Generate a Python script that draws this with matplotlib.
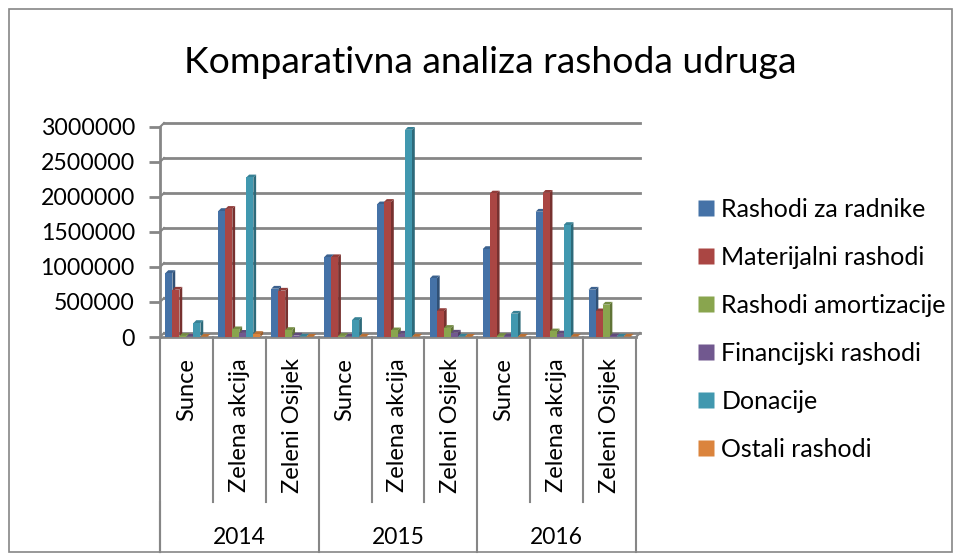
import numpy as np
import matplotlib.pyplot as plt
from matplotlib.patches import Polygon, Rectangle
from matplotlib.lines import Line2D

plt.rcParams['font.family'] = ['Lato', 'DejaVu Sans']

# data
years = ['2014', '2015', '2016']
udruge = ['Sunce', 'Zelena akcija', 'Zeleni Osijek']
series = ['Rashodi za radnike', 'Materijalni rashodi', 'Rashodi amortizacije',
          'Financijski rashodi', 'Donacije', 'Ostali rashodi']

radnici = [914000, 1800000, 690000, 1140000, 1895000, 838000, 1257000, 1790000, 676000]
materijalni = [676000, 1830000, 662000, 1140000, 1930000, 371000, 2050000, 2060000, 367000]
amortizacija = [15000, 110000, 100000, 15000, 95000, 130000, 15000, 80000, 462000]
financijski = [5000, 60000, 20000, 5000, 48000, 62000, 10000, 50000, 10000]
donacije = [200000, 2280000, 5000, 243000, 2960000, 5000, 333000, 1600000, 5000]
ostali = [3000, 43000, 3000, 5000, 5000, 3000, 3000, 5000, 5000]

values = [radnici, materijalni, amortizacija, financijski, donacije, ostali]
colors = ['#4572A7', '#AA4643', '#89A54E', '#71588F', '#4198AF', '#DB843D']

W, H = 960, 559
fig = plt.figure(figsize=(W / 100, H / 100), dpi=100)

# plot area in pixels
left, right, top, bottom = 160, 636, 127, 337
ax = fig.add_axes([left / W, 1 - bottom / H, (right - left) / W, (bottom - top) / H])

ncat = len(years) * len(udruge)
ymax = 3000000
ax.set_xlim(0, ncat)
ax.set_ylim(0, ymax)

# size of one pixel in data units
px_x = ncat / (right - left)
px_y = ymax / (bottom - top)
dep_x, dep_y = 4 * px_x, 4 * px_y

grid_col = '#868686'

# back wall gridlines with a small perspective offset
for v in np.arange(0, ymax + 1, 500000):
    ax.plot([dep_x, ncat + dep_x], [v + dep_y, v + dep_y], color=grid_col, lw=2, clip_on=False, zorder=1)
    ax.plot([0, dep_x], [v, v + dep_y], color=grid_col, lw=1.5, clip_on=False, zorder=1)
ax.plot([ncat, ncat + dep_x], [0, dep_y], color=grid_col, lw=1.5, clip_on=False, zorder=1)

# 3D-looking bars
def shade(c, f):
    c = np.array(plt.matplotlib.colors.to_rgb(c))
    return tuple(np.clip(c * f, 0, 1))

bw = 7.0 * px_x
x = np.arange(ncat) + 0.5
for i, (vals, col) in enumerate(zip(values, colors)):
    xs = x + (i - 2.5) * bw
    for xc, h in zip(xs, vals):
        x0, x1 = xc - bw / 2, xc + bw / 2
        side = Polygon([(x1, 0), (x1, h), (x1 + dep_x * 0.7, h + dep_y * 0.7), (x1 + dep_x * 0.7, dep_y * 0.7)],
                       closed=True, facecolor=shade(col, 0.7), edgecolor='none', zorder=3 + i, clip_on=False)
        topf = Polygon([(x0, h), (x1, h), (x1 + dep_x * 0.7, h + dep_y * 0.7), (x0 + dep_x * 0.7, h + dep_y * 0.7)],
                       closed=True, facecolor=shade(col, 0.85), edgecolor='none', zorder=3 + i, clip_on=False)
        ax.add_patch(side)
        ax.add_patch(topf)
        ax.add_patch(Rectangle((x0, 0), bw, h, facecolor=col, edgecolor='none', zorder=3 + i, clip_on=False))

for s in ['top', 'right']:
    ax.spines[s].set_visible(False)
ax.spines['left'].set_color(grid_col)
ax.spines['left'].set_linewidth(2)
ax.spines['bottom'].set_color(grid_col)
ax.spines['bottom'].set_linewidth(2)

ax.set_yticks(np.arange(0, ymax + 1, 500000))
ax.set_yticklabels([str(int(v)) for v in np.arange(0, ymax + 1, 500000)], fontsize=16.7)
ax.tick_params(axis='y', length=8, width=2, color=grid_col, pad=10)
ax.set_xticks([])

# two-level category axis
tr = ax.get_xaxis_transform()
for k in range(ncat + 1):
    lower = -1.024 if k % 3 == 0 else -0.786
    ax.plot([k, k], [0, lower], color=grid_col, lw=1.5, transform=tr, clip_on=False)
ax.plot([0, 0], [-0.786, -1.024], color=grid_col, lw=1.5, transform=tr, clip_on=False)
for k in range(ncat):
    ax.text(k + 0.5, -0.1, udruge[k % 3], rotation=90, ha='center', va='top',
            fontsize=17, transform=tr)
for j, yr in enumerate(years):
    ax.text(j * 3 + 1.5, -0.957, yr, ha='center', va='center', fontsize=16.5, transform=tr)

fig.text(0.511, 1 - 62 / H, 'Komparativna analiza rashoda udruga', ha='center', va='center', fontsize=26.8)

handles = [Line2D([], [], marker='s', linestyle='none', markersize=12, markerfacecolor=c,
                  markeredgecolor='none') for c in colors]
fig.legend(handles, series, loc='upper left', bbox_to_anchor=(685 / W, 1 - 185 / H), frameon=False,
           fontsize=18, labelspacing=1.0, handletextpad=0.25, handlelength=0.7, borderpad=0)

# outer chart border
fig.add_artist(Rectangle((9 / W, 7 / H), 943 / W, 543 / H, transform=fig.transFigure,
                         fill=False, edgecolor=grid_col, lw=1.2))

fig.savefig('out.png', dpi=100)
